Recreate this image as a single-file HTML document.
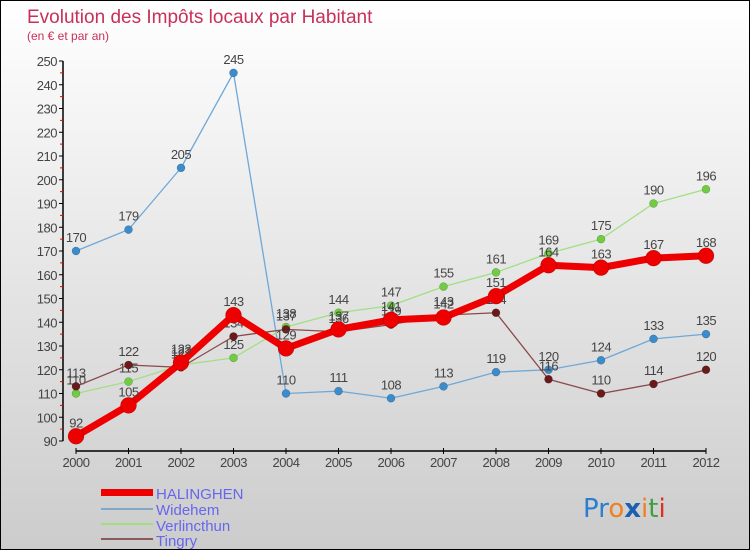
<!DOCTYPE html>
<html><head><meta charset="utf-8"><style>
html,body{margin:0;padding:0}
body{width:750px;height:550px;overflow:hidden;font-family:"Liberation Sans",sans-serif}
#c{position:absolute;left:0;top:0;width:748px;height:548px;border:1px solid #000;background:linear-gradient(#fff,#ccc)}
</style></head><body>
<div id="c">
<svg id="s" width="748" height="548" xmlns="http://www.w3.org/2000/svg">
<text x="26" y="22" font-size="19" fill="#c8305a">Evolution des Impôts locaux par Habitant</text>
<text x="26" y="39" font-size="12" fill="#c8305a">(en € et par an)</text>
<g id="axes"></g><g id="series"></g>
<g>
<rect x="100" y="488" width="52" height="7" fill="#e00"/>
<text x="155" y="498" font-size="15" fill="#6666ee">HALINGHEN</text>
<rect x="100" y="507" width="52" height="2" fill="#7fa7c7"/>
<text x="155" y="514" font-size="15" fill="#6666ee">Widehem</text>
<rect x="100" y="522" width="52" height="2" fill="#9fdf7f"/>
<text x="155" y="530" font-size="15" fill="#6666ee">Verlincthun</text>
<rect x="100" y="537" width="52" height="2" fill="#8a5a5a"/>
<text x="155" y="545" font-size="15" fill="#6666ee">Tingry</text>
</g>
<g font-size="26" font-family="DejaVu Sans, sans-serif">
<text x="582" y="516"><tspan fill="#2a7fd0">Pr</tspan><tspan fill="#f08020">o</tspan><tspan fill="#1a5fb0" font-weight="bold">x</tspan><tspan fill="#f08020">i</tspan><tspan fill="#40a040">t</tspan><tspan fill="#e03020">i</tspan></text>
</g>
</svg></div>
<script>
const years=[2000,2001,2002,2003,2004,2005,2006,2007,2008,2009,2010,2011,2012];
const halinghen=[92,105,123,143,129,137,141,142,151,164,163,167,168];
const widehem=[170,179,205,245,110,111,108,113,119,120,124,133,135];
const verlincthun=[110,115,122,125,138,144,147,155,161,169,175,190,196];
const tingry=[113,122,121,134,137,136,139,143,144,116,110,114,120];
const yTicks=[90,100,110,120,130,140,150,160,170,180,190,200,210,220,230,240,250];
const NS="http://www.w3.org/2000/svg";
function X(i){return 75+i*(705-75)/(years.length-1);}
function Y(v){return 440-(v-90)*(380/160);}
function mk(t,a,p){const e=document.createElementNS(NS,t);for(const k in a)e.setAttribute(k,a[k]);p.appendChild(e);return e;}
const ax=document.getElementById('axes');
let e=mk('line',{x1:62,y1:Y(250),x2:62,y2:Y(90),stroke:'#000','stroke-width':1.5},ax);


yTicks.forEach((v,i)=>{
 const t=mk('line',{x1:58,y1:Y(v),x2:62,y2:Y(v),stroke:'#000'},ax);
 
 
 if(i<yTicks.length-1){const m=mk('line',{x1:59,y1:Y(v+5),x2:62,y2:Y(v+5),stroke:'#e00'},ax);
 
 }
 const l=mk('text',{x:56,y:Y(v)+5,'font-size':13,'text-anchor':'end',fill:'#444','letter-spacing':'-0.5'},ax);
 l.textContent=v;
 
 
});
e=mk('line',{x1:75,y1:450,x2:705,y2:450,stroke:'#000','stroke-width':1.5},ax);


years.forEach((y,i)=>{
 const t=mk('line',{x1:X(i),y1:447,x2:X(i),y2:453,stroke:'#000'},ax);
 
 
 const l=mk('text',{x:X(i),y:466,'font-size':13,'text-anchor':'middle',fill:'#444','letter-spacing':'-0.5'},ax);
 l.textContent=y;
 
 
});
const sg=document.getElementById('series');
function draw(vals,name,color,w,r,dot){
 const g=mk('g',{},sg);
 
 
 const p=mk('polyline',{points:vals.map((v,i)=>X(i)+','+Y(v)).join(' '),fill:'none',stroke:color,'stroke-width':w,'stroke-linejoin':'round'},g);
 
 
 vals.forEach((v,i)=>{
  const c=mk('circle',{cx:X(i),cy:Y(v),r:r,fill:dot,stroke:'rgba(0,0,0,0.3)','stroke-width':0.5},g);
  
  
  const t=mk('text',{x:X(i),y:Y(v)-9,'font-size':13,'text-anchor':'middle',fill:'#444','letter-spacing':'-0.5'},g);
  t.textContent=v;
  
  
 });
}
draw(widehem,'widehem','#6fa8d8',1.3,4,'#3a8ccc');
draw(verlincthun,'verlincthun','#a0e080',1.3,4,'#70cc40');
draw(tingry,'tingry','#8a4a4a',1.3,4,'#6a1a1a');
draw(halinghen,'halinghen','#ee0000',7,8,'#ee0000');
</script>
</body></html>
